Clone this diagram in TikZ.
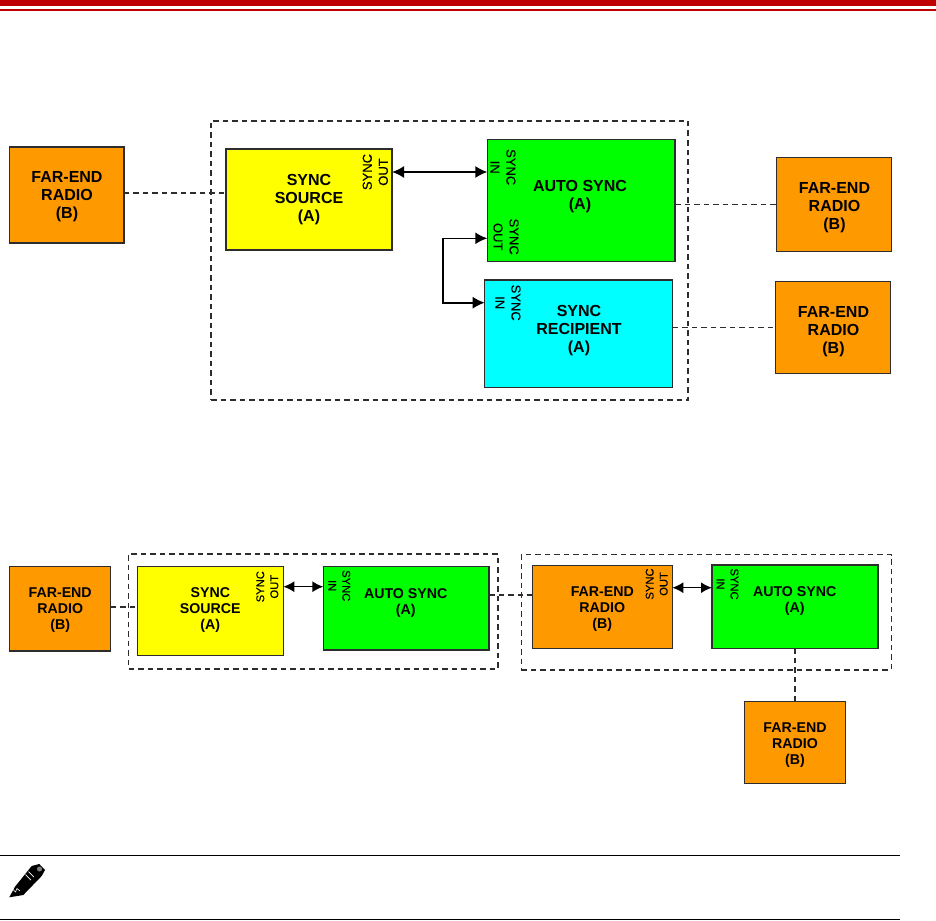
\documentclass[tikz,border=0pt]{standalone}
\usepackage{fontspec}
\setmainfont{Liberation Sans}
\newfontfamily\portfont[FakeBold=0.2]{Liberation Sans}
\usetikzlibrary{arrows.meta,positioning,calc}
\definecolor{farend}{RGB}{255,153,0}
\definecolor{barred}{RGB}{192,0,0}
\definecolor{edgegray}{RGB}{45,45,45}
\definecolor{srcyellow}{RGB}{255,255,0}
\definecolor{autogreen}{RGB}{0,255,0}
\definecolor{recipcyan}{RGB}{0,255,255}
\tikzset{
  blockbox/.style={draw=edgegray,line width=1.5pt,outer sep=0pt,inner sep=0pt},
  boxsize/.style 2 args={minimum width=#1 pt,minimum height=#2 pt},
  bigtxt/.style={align=center,inner sep=0pt,font=\fontsize{16}{18}\selectfont\bfseries},
  lowtxt/.style={align=center,inner sep=0pt,font=\fontsize{14.2}{16}\selectfont\bfseries},
  bigport/.style={align=center,inner sep=0pt,font=\portfont\fontsize{13}{16}\selectfont},
  lowport/.style={align=center,inner sep=0pt,font=\portfont\fontsize{11.2}{14}\selectfont},
  dashlink/.style={draw=edgegray,line width=1.6pt,dash pattern=on 5.5pt off 4pt},
  groupbox/.style={dashlink,outer sep=0pt,inner sep=0pt},
  biglink/.style={line width=1.6pt,{Latex[length=12pt,width=12pt]}-{Latex[length=12pt,width=12pt]}},
  lowlink/.style={line width=1.5pt,{Latex[length=11pt,width=11pt]}-{Latex[length=11pt,width=11pt]}}
}
\begin{document}
\begin{tikzpicture}[x=1pt,y=-1pt]
  \useasboundingbox (0,0) rectangle (936,920);
  % page rules
  \fill[barred] (0,0) rectangle (936,5.7);
  \fill[barred] (0,9) rectangle (936,11);
  \draw[line width=1pt] (0,855.4) -- (900,855.4);
  \draw[line width=1pt] (0,919.4) -- (900,919.4);
  % upper group
  \node[groupbox,boxsize={477}{279}] (groupA) at (449.5,260.5) {};
  \node[blockbox,fill=farend,boxsize={114.5}{96}] (far1) at (66.7,195) {};
  \node[blockbox,fill=srcyellow,boxsize={166}{101}] (source1) at (309,199.5) {};
  \node[blockbox,fill=autogreen,boxsize={187.7}{122}] (auto1) at (581.2,200.3) {};
  \node[blockbox,fill=recipcyan,boxsize={188}{107.3}] (recip1) at (578.7,333.7) {};
  \node[blockbox,fill=farend,boxsize={115.4}{93.6}] (far2) at (834,204.5) {};
  \node[blockbox,fill=farend,boxsize={115}{91.6}] (far3) at (833,327.5) {};
  \node[bigtxt] (far1txt) at (67,197) {FAR-END\\RADIO\\(B)};
  \node[bigtxt] (source1txt) at (309,200) {SYNC\\SOURCE\\(A)};
  \node[bigtxt] (auto1txt) at (580,196.5) {AUTO SYNC\\(A)};
  \node[bigtxt] (recip1txt) at (579,331) {SYNC\\RECIPIENT\\(A)};
  \node[bigtxt] (far2txt) at (834.5,208) {FAR-END\\RADIO\\(B)};
  \node[bigtxt] (far3txt) at (833.5,331.5) {FAR-END\\RADIO\\(B)};
  \node[bigport,rotate=90] (source1out) at (375.3,172) {SYNC\\OUT};
  \node[bigport,rotate=-90] (auto1in) at (503,167.2) {SYNC\\IN};
  \node[bigport,rotate=-90] (auto1out) at (506,236.7) {SYNC\\OUT};
  \node[bigport,rotate=-90] (recip1in) at (508,302.7) {SYNC\\IN};
  \coordinate (outA) at (487.3,238.3);
  \coordinate (inA) at (484.7,302.7);
  \draw[biglink] ([yshift=27.5pt]source1.east) -- (auto1.west |- {0,172});
  \draw[biglink] (outA) -- ++(-44.6,0) |- (inA);
  \draw[dashlink] ([yshift=2.3pt]far1.east) -- ([yshift=6.8pt]source1.west);
  \draw[dashlink] (auto1.east |- far2.west) -- (far2.west);
  \draw[dashlink] (recip1.east |- far3.west) -- (far3.west);
  % lower groups
  \node[groupbox,boxsize={369.3}{115}] (groupB) at (313.3,611.2) {};
  \node[groupbox,boxsize={370}{115.3}] (groupC) at (706.3,612.3) {};
  \node[blockbox,fill=farend,boxsize={101}{84.3}] (far4) at (60.2,608.8) {};
  \node[blockbox,fill=srcyellow,boxsize={146}{89}] (source2) at (210.3,611.2) {};
  \node[blockbox,fill=autogreen,boxsize={165.7}{83.3}] (auto2) at (406.2,608.3) {};
  \node[blockbox,fill=farend,boxsize={139.6}{82.6}] (far5) at (602.5,607) {};
  \node[blockbox,fill=autogreen,boxsize={166}{83.3}] (auto3) at (795,606.7) {};
  \node[blockbox,fill=farend,boxsize={101.4}{81.6}] (far6) at (795,742.5) {};
  \node[lowtxt] (far4txt) at (60.2,610) {FAR-END\\RADIO\\(B)};
  \node[lowtxt] (source2txt) at (210.3,610.5) {SYNC\\SOURCE\\(A)};
  \node[lowtxt] (auto2txt) at (405.7,603) {AUTO SYNC\\(A)};
  \node[lowtxt] (far5txt) at (602.3,609.5) {FAR-END\\RADIO\\(B)};
  \node[lowtxt] (auto3txt) at (794.7,601.3) {AUTO SYNC\\(A)};
  \node[lowtxt] (far6txt) at (795,745.5) {FAR-END\\RADIO\\(B)};
  \node[lowport,rotate=90] (source2out) at (267.3,586.7) {SYNC\\OUT};
  \node[lowport,rotate=-90] (auto2in) at (339.3,585.7) {SYNC\\IN};
  \node[lowport,rotate=90] (far5out) at (656.7,584) {SYNC\\OUT};
  \node[lowport,rotate=-90] (auto3in) at (727.5,584) {SYNC\\IN};
  \draw[lowlink] (source2.east |- {0,586.7}) -- (auto2.west |- {0,586.7});
  \draw[lowlink] (far5.east |- {0,587.7}) -- (auto3.west |- {0,587.7});
  \draw[dashlink] (far4.east |- {0,606.7}) -- (source2.west |- {0,606.7});
  \draw[dashlink] (auto2.east |- {0,595}) -- (far5.west |- {0,595});
  \draw[dashlink] (auto3.south) -- (far6.north);
  % note pen
  \fill (9.3,897.3) -- (15,886.7) -- (31.7,866) -- (39.3,864) -- (45,870) -- (41.7,876) -- (23.3,895) -- cycle;
  \draw[white,line width=.6pt] (12.5,889) -- (15.5,892) -- (17,888.5) -- (20,891);
  \draw[white,line width=.7pt] (25.5,874.5) -- (31,880);
  \draw[white,line width=.7pt] (28.5,871.5) -- (34,877);
  \fill[gray] (39.5,869) circle (2.5pt);
\end{tikzpicture}
\end{document}
